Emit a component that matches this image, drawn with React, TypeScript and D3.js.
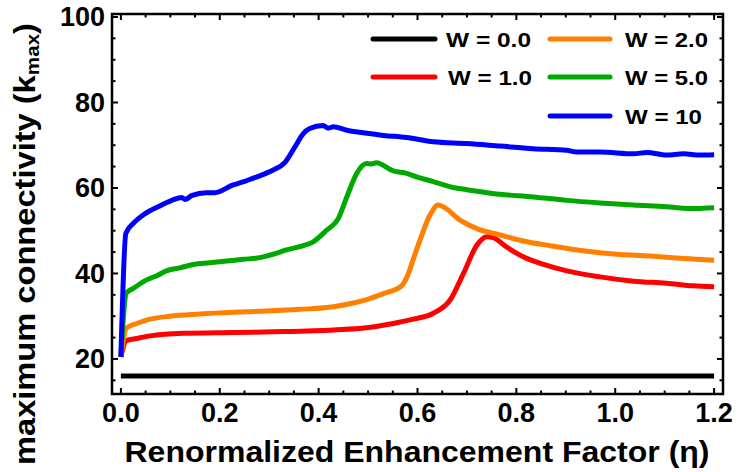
import React from "react";
import * as d3 from "d3";

// renormalized enhancement factor (eta) and k_max for each W
const etaW0 = [0, 1.2];
const kW0 = [16, 16];

const etaW1 = [0, 0.011, 0.032, 0.059, 0.126, 0.227, 0.328, 0.43, 0.497, 0.551, 0.591, 0.632, 0.666, 0.693, 0.72, 0.74, 0.753, 0.78, 0.814, 0.855, 0.902, 0.969, 1.037, 1.104, 1.158, 1.2];
const kW1 = [20.5, 24.3, 24.8, 25.4, 26.0, 26.2, 26.4, 26.8, 27.3, 28.3, 29.3, 30.7, 33.8, 40.0, 46.6, 48.6, 48.4, 46.2, 43.9, 42.1, 40.6, 39.2, 38.2, 37.7, 37.1, 36.9];

const etaW2 = [0, 0.011, 0.032, 0.059, 0.099, 0.16, 0.227, 0.295, 0.362, 0.43, 0.463, 0.497, 0.531, 0.567, 0.58, 0.592, 0.605, 0.625, 0.642, 0.652, 0.686, 0.72, 0.767, 0.814, 0.868, 0.935, 1.003, 1.07, 1.138, 1.2];
const kW2 = [20.5, 27.2, 28.3, 29.3, 30.0, 30.5, 30.9, 31.2, 31.6, 32.2, 32.9, 33.9, 35.3, 37.0, 39.5, 43.5, 47.8, 53.6, 56.0, 55.6, 52.5, 50.5, 49.0, 47.6, 46.5, 45.3, 44.5, 44.1, 43.5, 43.1];

const etaW5 = [0, 0.011, 0.025, 0.052, 0.075, 0.092, 0.119, 0.146, 0.18, 0.214, 0.247, 0.281, 0.308, 0.335, 0.369, 0.389, 0.416, 0.44, 0.457, 0.477, 0.497, 0.507, 0.517, 0.551, 0.578, 0.598, 0.632, 0.672, 0.7, 0.76, 0.834, 0.902, 0.969, 1.037, 1.104, 1.151, 1.2];
const kW5 = [20.5, 35.4, 36.5, 38.5, 39.6, 40.6, 41.3, 42.1, 42.5, 42.9, 43.3, 43.7, 44.5, 45.5, 46.5, 47.4, 50.1, 52.9, 57.9, 63.4, 65.7, 65.6, 65.9, 64.0, 63.4, 62.6, 61.5, 60.1, 59.6, 58.6, 57.9, 57.1, 56.5, 56.0, 55.6, 55.2, 55.4];

const etaW10 = [0, 0.01, 0.025, 0.049, 0.075, 0.103, 0.123, 0.13, 0.143, 0.173, 0.19, 0.227, 0.247, 0.275, 0.308, 0.332, 0.352, 0.369, 0.382, 0.409, 0.419, 0.43, 0.457, 0.49, 0.531, 0.578, 0.632, 0.7, 0.767, 0.834, 0.902, 0.922, 0.969, 1.037, 1.064, 1.104, 1.138, 1.171, 1.2];
const kW10 = [20.5, 49.4, 51.7, 54.0, 55.6, 57.1, 57.8, 57.3, 58.2, 58.9, 58.9, 60.7, 61.4, 62.6, 64.2, 66.0, 69.6, 72.7, 73.9, 74.6, 74.0, 74.3, 73.5, 72.9, 72.3, 71.8, 70.8, 70.4, 69.8, 69.2, 68.8, 68.4, 68.4, 68.0, 68.3, 67.7, 68.0, 67.7, 67.8];

const seriesNames = ["W = 0.0", "W = 1.0", "W = 2.0", "W = 5.0", "W = 10"];
const seriesColors = ["#000000", "#ff0000", "#ff8000", "#00a800", "#0000ff"];
const seriesEta = [etaW0, etaW1, etaW2, etaW5, etaW10];
const seriesK = [kW0, kW1, kW2, kW5, kW10];

const xMajor = [0, 0.2, 0.4, 0.6, 0.8, 1.0, 1.2];
const yMajor = [20, 40, 60, 80, 100];

const W = 739;
const H = 472;
const frame = { left: 112, right: 723, top: 14, bottom: 394 };
const font = "'Liberation Sans', Arial, Helvetica, sans-serif";

export default function App() {
  const x = d3.scaleLinear().domain([-0.018, 1.218]).range([frame.left, frame.right]);
  const y = d3.scaleLinear().domain([11.8, 100.7]).range([frame.bottom, frame.top]);

  const line = d3
    .line<[number, number]>()
    .x((d) => x(d[0]))
    .y((d) => y(d[1]))
    .curve(d3.curveMonotoneX);

  const xMinor = d3.range(0, 1.2001, 0.05).filter((v) => !xMajor.some((m) => Math.abs(m - v) < 1e-6));
  const yMinor = d3.range(15, 100.01, 5).filter((v) => !yMajor.includes(v));

  const majorLen = 6;
  const minorLen = 3.5;

  // legend layout: [column, row] for each series
  const legendSlots = [
    [0, 0],
    [0, 1],
    [1, 0],
    [1, 1],
    [1, 2],
  ];
  const legendCols = [
    { x1: 373, x2: 435, tx: 446 },
    { x1: 550, x2: 610, tx: 625 },
  ];
  const legendRows = [39, 77, 116];
  const legendWidths = [85, 84, 83, 83, 77];

  return (
    <svg
      width={W}
      height={H}
      viewBox={`0 0 ${W} ${H}`}
      style={{ position: "absolute", left: 0, top: 0, background: "#fff" }}
    >
      <rect x={0} y={0} width={W} height={H} fill="#fff" />

      {/* series */}
      {seriesEta.map((etas, i) => (
        <path
          key={seriesNames[i]}
          d={line(etas.map((e, j) => [e, seriesK[i][j]] as [number, number])) || ""}
          fill="none"
          stroke={seriesColors[i]}
          strokeWidth={5}
          strokeLinejoin="round"
          strokeLinecap="butt"
        />
      ))}

      {/* frame */}
      <rect
        x={frame.left}
        y={frame.top}
        width={frame.right - frame.left}
        height={frame.bottom - frame.top}
        fill="none"
        stroke="#000"
        strokeWidth={2.5}
      />

      {/* x ticks, bottom and top */}
      {xMajor.map((v) => (
        <g key={"xM" + v} stroke="#000" strokeWidth={2}>
          <line x1={x(v)} x2={x(v)} y1={frame.bottom} y2={frame.bottom - majorLen} />
          <line x1={x(v)} x2={x(v)} y1={frame.top} y2={frame.top + majorLen} />
        </g>
      ))}
      {xMinor.map((v) => (
        <g key={"xm" + v} stroke="#000" strokeWidth={2}>
          <line x1={x(v)} x2={x(v)} y1={frame.bottom} y2={frame.bottom - minorLen} />
          <line x1={x(v)} x2={x(v)} y1={frame.top} y2={frame.top + minorLen} />
        </g>
      ))}

      {/* y ticks, left and right */}
      {yMajor.map((v) => (
        <g key={"yM" + v} stroke="#000" strokeWidth={2}>
          <line x1={frame.left} x2={frame.left + majorLen} y1={y(v)} y2={y(v)} />
          <line x1={frame.right} x2={frame.right - majorLen} y1={y(v)} y2={y(v)} />
        </g>
      ))}
      {yMinor.map((v) => (
        <g key={"ym" + v} stroke="#000" strokeWidth={2}>
          <line x1={frame.left} x2={frame.left + minorLen} y1={y(v)} y2={y(v)} />
          <line x1={frame.right} x2={frame.right - minorLen} y1={y(v)} y2={y(v)} />
        </g>
      ))}

      {/* tick labels */}
      <g fontFamily={font} fontWeight="bold" fontSize={27} fill="#000">
        {xMajor.map((v) => (
          <text key={"xl" + v} x={x(v)} y={frame.bottom + 28} textAnchor="middle">
            {v.toFixed(1)}
          </text>
        ))}
        {yMajor.map((v) => (
          <text key={"yl" + v} x={105} y={y(v) + 9.5} textAnchor="end">
            {v}
          </text>
        ))}
      </g>

      {/* axis titles */}
      <text
        x={417}
        y={462}
        textAnchor="middle"
        fontFamily={font}
        fontWeight="bold"
        fontSize={29}
        textLength={585}
        lengthAdjust="spacingAndGlyphs"
      >
        Renormalized Enhancement Factor (η)
      </text>
      <text
        transform="translate(35,244) rotate(-90)"
        textAnchor="middle"
        fontFamily={font}
        fontWeight="bold"
        fontSize={30}
        textLength={442}
        lengthAdjust="spacingAndGlyphs"
      >
        maximum connectivity (k
        <tspan fontSize={19} dy={4}>max</tspan>
        <tspan dy={-4}>)</tspan>
      </text>

      {/* legend */}
      {seriesNames.map((name, i) => {
        const [c, r] = legendSlots[i];
        const col = legendCols[c];
        const ry = legendRows[r];
        return (
          <g key={"lg" + name}>
            <line
              x1={col.x1}
              x2={col.x2}
              y1={ry}
              y2={ry}
              stroke={seriesColors[i]}
              strokeWidth={5}
              strokeLinecap="round"
            />
            <text
              x={i === 1 ? col.tx + 2 : col.tx}
              y={ry + 7.5}
              fontFamily={font}
              fontWeight="bold"
              fontSize={21}
              textLength={legendWidths[i]}
              lengthAdjust="spacingAndGlyphs"
            >
              {name}
            </text>
          </g>
        );
      })}
    </svg>
  );
}
